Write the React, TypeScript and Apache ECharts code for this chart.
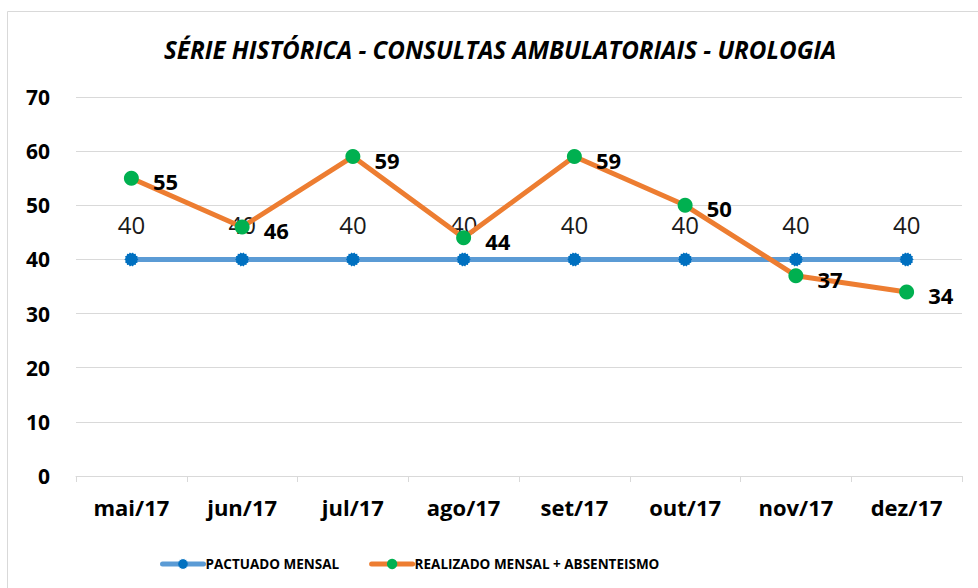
import React, { useEffect, useRef } from "react";
import * as echarts from "echarts";

const categories = ["mai/17", "jun/17", "jul/17", "ago/17", "set/17", "out/17", "nov/17", "dez/17"];
const pactuado = [40, 40, 40, 40, 40, 40, 40, 40];
const realizado = [55, 46, 59, 44, 59, 50, 37, 34];
const seriesNames = ["PACTUADO MENSAL", "REALIZADO MENSAL + ABSENTEISMO"];
const titleText = "SÉRIE HISTÓRICA - CONSULTAS AMBULATORIAIS - UROLOGIA";

const FONT = "'Open Sans', 'Noto Sans', sans-serif";

// jagged round marker (like Excel's blurred circle marker)
function jaggedCircle(points: number, outer: number, inner: number): string {
  const parts: string[] = [];
  for (let i = 0; i < points * 2; i++) {
    const r = i % 2 === 0 ? outer : inner;
    const a = (Math.PI * i) / points;
    const x = 50 + r * Math.cos(a);
    const y = 50 + r * Math.sin(a);
    parts.push((i === 0 ? "M" : "L") + x.toFixed(2) + " " + y.toFixed(2));
  }
  return "path://" + parts.join(" ") + " Z";
}
const blueSymbol = jaggedCircle(14, 50, 42);

export default function App() {
  const ref = useRef<HTMLDivElement>(null);
  useEffect(() => {
    document.body.style.margin = "0";
    const chart = echarts.init(ref.current!, undefined, { renderer: "svg" });
    chart.setOption({
      animation: false,
      backgroundColor: "#ffffff",
      title: {
        text: titleText,
        left: 159,
        top: 32,
        textStyle: { fontFamily: FONT, fontSize: 24.2, fontWeight: "bold", fontStyle: "italic", color: "#000" },
      },
      graphic: [
        {
          type: "rect",
          shape: { x: 7.5, y: 11.5, width: 1000, height: 600 },
          style: { fill: "none", stroke: "#d9d9d9", lineWidth: 1 },
          silent: true,
        },
      ],
      legend: {
        left: 155,
        top: 552,
        itemWidth: 41,
        itemHeight: 13,
        itemGap: 30,
        lineStyle: { width: 5, cap: "round" },
        textStyle: { fontFamily: FONT, fontSize: 13.5, fontWeight: "bold", color: "#000", padding: [0, 0, 0, -3] },
        data: seriesNames,
      },
      grid: { left: 76, right: 16, top: 97, bottom: 112, containLabel: false },
      xAxis: {
        type: "category",
        data: categories,
        boundaryGap: true,
        axisLine: { lineStyle: { color: "#d9d9d9", width: 1 } },
        axisTick: { show: true, length: 6, lineStyle: { color: "#d9d9d9" } },
        axisLabel: { fontFamily: FONT, fontSize: 22, fontWeight: "bold", color: "#000", margin: 20 },
      },
      yAxis: {
        type: "value",
        min: 0,
        max: 70,
        interval: 10,
        axisLine: { show: false },
        axisTick: { show: false },
        splitLine: { lineStyle: { color: "#d9d9d9", width: 1 } },
        axisLabel: { fontFamily: FONT, fontSize: 21, fontWeight: "bold", color: "#000", margin: 26 },
      },
      series: [
        {
          name: seriesNames[0],
          type: "line",
          data: pactuado,
          z: 2,
          lineStyle: { color: "#5b9bd5", width: 5 },
          itemStyle: { color: "#0070c0" },
          symbol: blueSymbol,
          symbolSize: 14,
          label: {
            show: true,
            position: "top",
            distance: 16,
            fontFamily: FONT,
            fontSize: 24,
            fontWeight: "normal",
            color: "#1a1a1a",
          },
        },
        {
          name: seriesNames[1],
          type: "line",
          data: realizado,
          z: 3,
          lineStyle: { color: "#ed7d31", width: 5 },
          itemStyle: { color: "#00b050" },
          symbol: "circle",
          symbolSize: 15,
          label: {
            show: true,
            position: "right",
            distance: 14,
            offset: [0, 3],
            fontFamily: FONT,
            fontSize: 22,
            fontWeight: "bold",
            color: "#000",
          },
        },
      ],
    });
    return () => chart.dispose();
  }, []);
  return <div ref={ref} style={{ width: 978, height: 588 }} />;
}
